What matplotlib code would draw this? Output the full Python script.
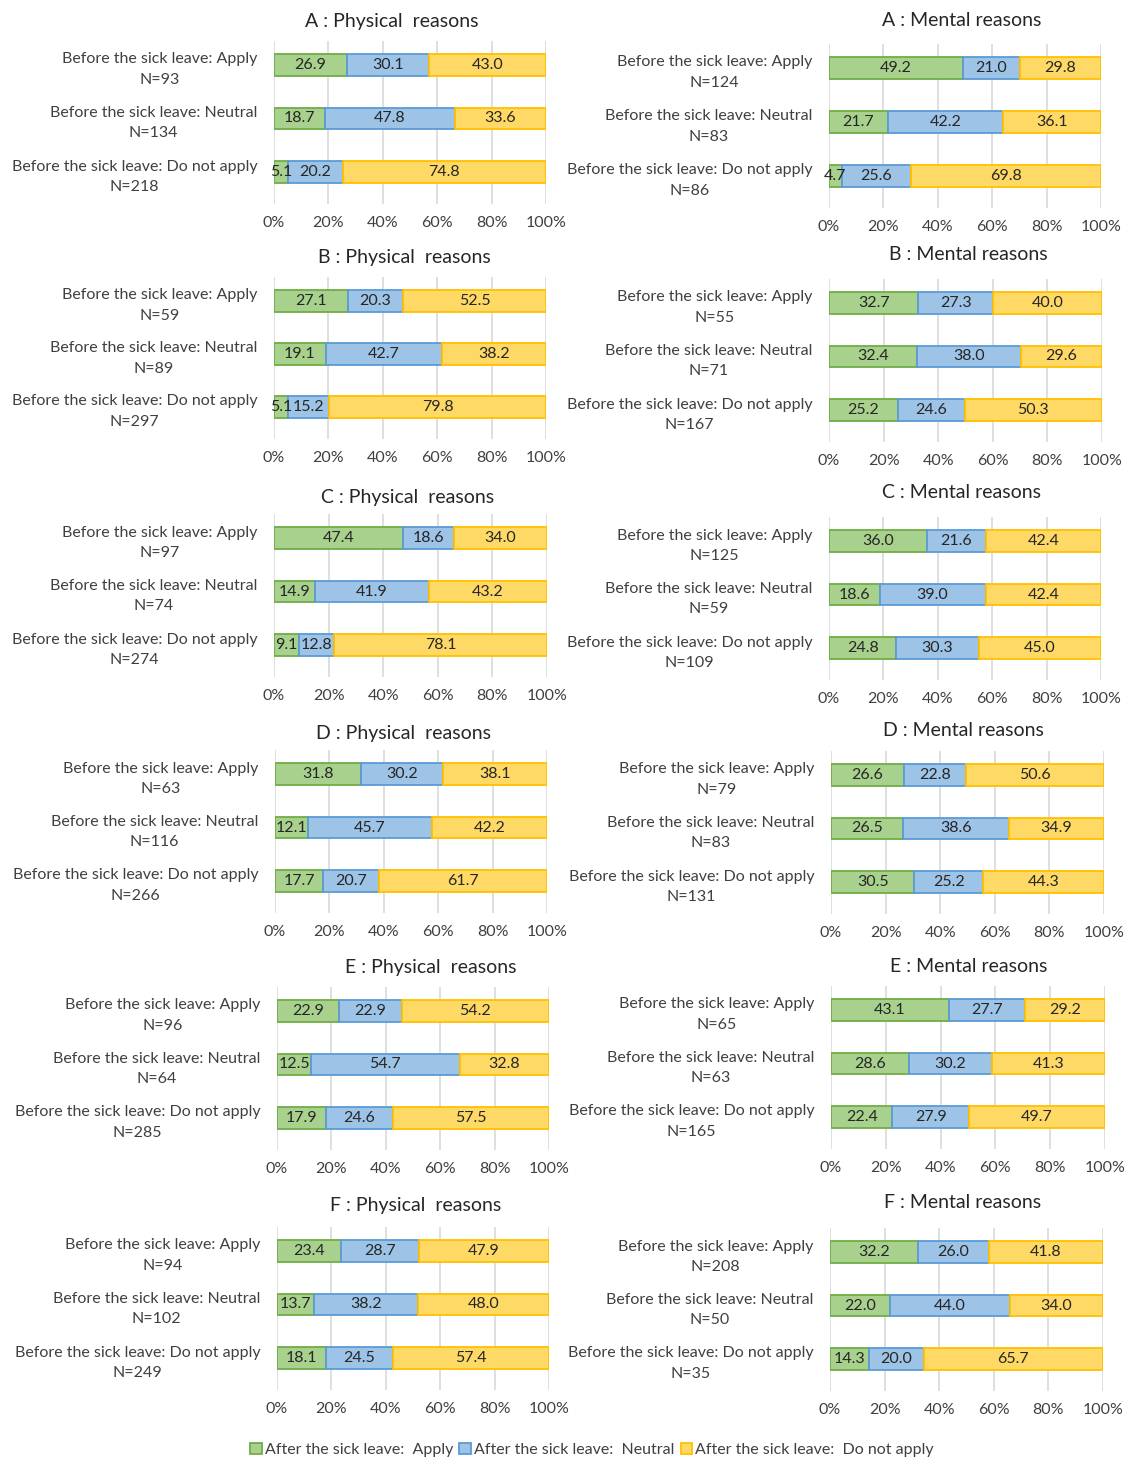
import matplotlib
matplotlib.use("Agg")
import matplotlib.pyplot as plt
from matplotlib.patches import Patch

plt.rcParams['font.family'] = ['Lato', 'DejaVu Sans']

rows = ["Apply", "Neutral", "Do not apply"]
series = ["After the sick leave:  Apply", "After the sick leave:  Neutral", "After the sick leave:  Do not apply"]
fills = ["#a9d18e", "#9dc3e6", "#ffd966"]
edges = ["#70ad47", "#5b9bd5", "#ffc000"]

# panel titles and data: [apply, neutral, do not apply] per row
titles = ["A : Physical  reasons", "A : Mental reasons",
          "B : Physical  reasons", "B : Mental reasons",
          "C : Physical  reasons", "C : Mental reasons",
          "D : Physical  reasons", "D : Mental reasons",
          "E : Physical  reasons", "E : Mental reasons",
          "F : Physical  reasons", "F : Mental reasons"]

a_phys = [[26.9, 30.1, 43.0], [18.7, 47.8, 33.6], [5.1, 20.2, 74.8]]
a_ment = [[49.2, 21.0, 29.8], [21.7, 42.2, 36.1], [4.7, 25.6, 69.8]]
b_phys = [[27.1, 20.3, 52.5], [19.1, 42.7, 38.2], [5.1, 15.2, 79.8]]
b_ment = [[32.7, 27.3, 40.0], [32.4, 38.0, 29.6], [25.2, 24.6, 50.3]]
c_phys = [[47.4, 18.6, 34.0], [14.9, 41.9, 43.2], [9.1, 12.8, 78.1]]
c_ment = [[36.0, 21.6, 42.4], [18.6, 39.0, 42.4], [24.8, 30.3, 45.0]]
d_phys = [[31.8, 30.2, 38.1], [12.1, 45.7, 42.2], [17.7, 20.7, 61.7]]
d_ment = [[26.6, 22.8, 50.6], [26.5, 38.6, 34.9], [30.5, 25.2, 44.3]]
e_phys = [[22.9, 22.9, 54.2], [12.5, 54.7, 32.8], [17.9, 24.6, 57.5]]
e_ment = [[43.1, 27.7, 29.2], [28.6, 30.2, 41.3], [22.4, 27.9, 49.7]]
f_phys = [[23.4, 28.7, 47.9], [13.7, 38.2, 48.0], [18.1, 24.5, 57.4]]
f_ment = [[32.2, 26.0, 41.8], [22.0, 44.0, 34.0], [14.3, 20.0, 65.7]]
panels = [a_phys, a_ment, b_phys, b_ment, c_phys, c_ment,
          d_phys, d_ment, e_phys, e_ment, f_phys, f_ment]

n_values = [[93, 134, 218], [124, 83, 86],
            [59, 89, 297], [55, 71, 167],
            [97, 74, 274], [125, 59, 109],
            [63, 116, 266], [79, 83, 131],
            [96, 64, 285], [65, 63, 165],
            [94, 102, 249], [208, 50, 35]]

W, H = 1129, 1461
# pixel layout per panel: x0, x1, first bar y, last bar y, title x, title y
layout = [(274, 546, 65, 172, 392, 21), (829, 1101, 68, 176, 962, 21),
          (274, 546, 301, 407, 404, 257), (829, 1102, 303, 410, 968, 255),
          (274, 547, 538, 645, 408, 497), (829, 1101, 541, 648, 962, 492),
          (275, 547, 774, 881, 403, 734), (831, 1104, 775, 882, 963, 730),
          (277, 549, 1011, 1118, 431, 968), (831, 1105, 1010, 1117, 969, 967),
          (277, 549, 1251, 1358, 416, 1206), (830, 1103, 1252, 1359, 963, 1203)]

fig = plt.figure(figsize=(W / 100, H / 100), dpi=100)

for k, data in enumerate(panels):
    x0, x1, yb0, yb2, tx, ty = layout[k]
    sp = (yb2 - yb0) / 2
    top = yb0 - 0.45 * sp
    bot = yb2 + 0.6 * sp
    ax = fig.add_axes([x0 / W, 1 - bot / H, (x1 - x0) / W, (bot - top) / H])
    ax.set_ylim(2.6, -0.45)
    ax.set_xlim(0, 100)
    labels = ["Before the sick leave: %s\nN=%d" % (r, n) for r, n in zip(rows, n_values[k])]
    lefts = [0, 0, 0]
    for s in range(3):
        vals = [row[s] for row in data]
        widths = [row[s] / sum(row) * 100 for row in data]
        bars = ax.barh(range(3), widths, left=lefts, height=0.41,
                       color=fills[s], edgecolor=edges[s], linewidth=1.3, zorder=3)
        ax.bar_label(bars, labels=["%.1f" % v for v in vals], label_type="center",
                     fontsize=11.5, color="#262626", zorder=4)
        lefts = [l + w for l, w in zip(lefts, widths)]
    ax.set_yticks(range(3))
    ax.set_yticklabels(labels, fontsize=11.5, color="#404040")
    for lbl in ax.get_yticklabels():
        lbl.set_multialignment("center")
        lbl.set_linespacing(1.55)
    ax.set_xticks([0, 20, 40, 60, 80, 100])
    ax.set_xticklabels(["0%", "20%", "40%", "60%", "80%", "100%"], fontsize=11.5, color="#404040")
    ax.tick_params(axis="y", length=0, pad=12)
    ax.tick_params(axis="x", length=0, pad=8.5)
    ax.grid(axis="x", color="#d9d9d9", linewidth=1.2, zorder=0)
    for sp_ in ax.spines.values():
        sp_.set_visible(False)
    fig.text(tx / W, 1 - ty / H, titles[k], fontsize=14, color="#262626",
             ha="center", va="center")

handles = [Patch(facecolor=fills[s], edgecolor=edges[s], linewidth=1.3) for s in range(3)]
fig.legend(handles, series, loc="center", bbox_to_anchor=(592 / W, 1 - 1450 / H),
           ncol=3, frameon=False, fontsize=11.5, handlelength=0.7, handleheight=0.7,
           handletextpad=0.2, columnspacing=0.4, labelcolor="#404040")

fig.savefig("out.png", dpi=100)
